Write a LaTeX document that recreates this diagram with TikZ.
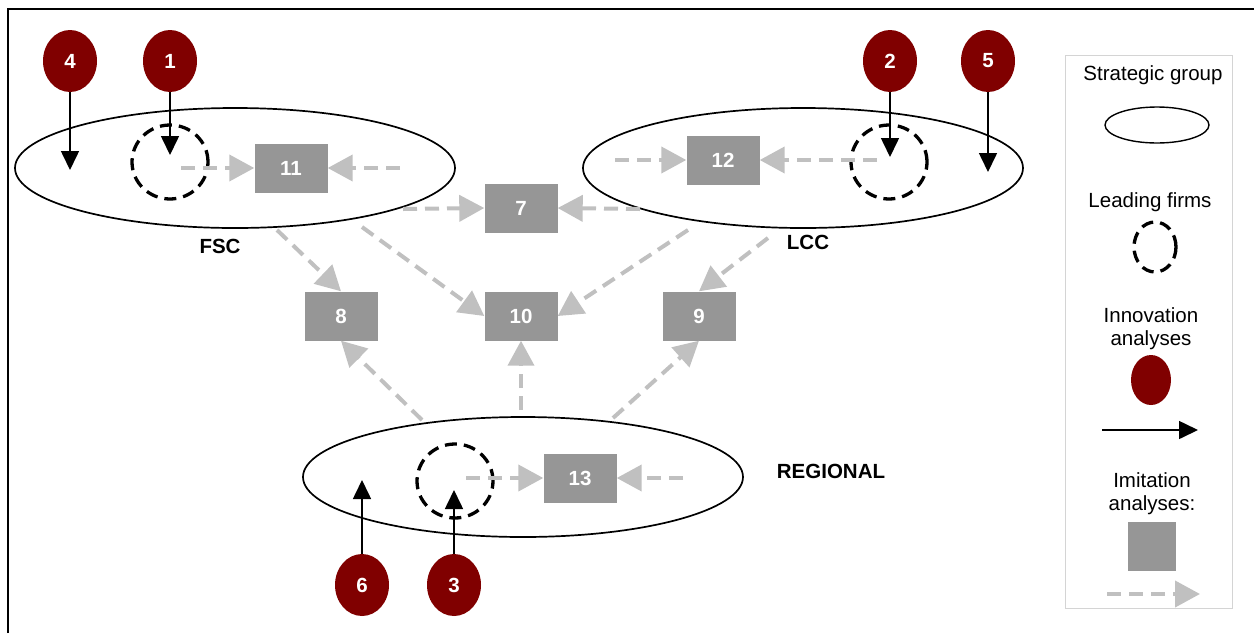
\documentclass[tikz,border=0pt]{standalone}
\usepackage{fontspec}
\setmainfont{Liberation Sans}
\usetikzlibrary{arrows.meta,shapes.geometric}

\definecolor{innovred}{HTML}{800000}
\definecolor{boxgray}{HTML}{969696}
\definecolor{arrowgray}{HTML}{C0C0C0}
\definecolor{framegray}{HTML}{D4D4D4}

\tikzset{
  group/.style={ellipse, draw, line width=1.7pt, inner sep=0pt, minimum width=440pt, minimum height=120pt},
  leader/.style={ellipse, draw, line width=3.3pt, dash pattern=on 12pt off 7pt, inner sep=0pt, minimum width=76pt, minimum height=74pt},
  innov/.style={ellipse, fill=innovred, text=white, inner sep=0pt, minimum width=54pt, minimum height=62pt, font=\fontsize{20.5}{23}\selectfont\bfseries},
  imit/.style={rectangle, fill=boxgray, text=white, inner sep=0pt, minimum width=73pt, minimum height=49pt, font=\fontsize{20.5}{23}\selectfont\bfseries},
  grouplabel/.style={font=\fontsize{20.5}{24}\selectfont\bfseries},
  legendtext/.style={align=center, font=\fontsize{20.5}{23}\selectfont},
  innovarrow/.style={-{Triangle[length=19pt,width=18pt]}, line width=1.6pt},
  imitarrow/.style={-{Triangle[length=25pt,width=26pt]}, draw=arrowgray, line width=4pt, dash pattern=on 14pt off 8pt},
}

\begin{document}
\begin{tikzpicture}[x=1pt,y=-1pt]
  \useasboundingbox (0,0) rectangle (1254,633);
  \draw[line width=2pt] (8,633) -- (8,9) -- (1254,9);
  %
  % strategic groups
  \node[group] (fsc) at (235,168) {};
  \node[group] (lcc) at (803,168) {};
  \node[group] (reg) at (523,477) {};
  \node[grouplabel] (fsclabel) at (220,246) {FSC};
  \node[grouplabel] (lcclabel) at (808,242) {LCC};
  \node[grouplabel] (reglabel) at (831,471) {REGIONAL};
  %
  % leading firms
  \node[leader] (lead1) at (170,162) {};
  \node[leader] (lead2) at (889,162) {};
  \node[leader] (lead3) at (455,481) {};
  %
  % innovation analyses
  \node[innov] (i1) at (170,61) {1};
  \node[innov] (i2) at (890,61) {2};
  \node[innov] (i3) at (454,585) {3};
  \node[innov] (i4) at (70,61) {4};
  \node[innov] (i5) at (988,61) {5};
  \node[innov] (i6) at (362,585) {6};
  \coordinate (t1) at (170,155);
  \coordinate (t2) at (890,157);
  \coordinate (t3) at (454,490);
  \coordinate (t4) at (70,170);
  \coordinate (t5) at (988,172);
  \coordinate (t6) at (362,480);
  \draw[innovarrow] (i1) -- (t1);
  \draw[innovarrow] (i2) -- (t2);
  \draw[innovarrow] (i3) -- (t3);
  \draw[innovarrow] (i4) -- (t4);
  \draw[innovarrow] (i5) -- (t5);
  \draw[innovarrow] (i6) -- (t6);
  %
  % imitation analyses
  \node[imit] (b7) at (521,208) {7};
  \node[imit] (b8) at (341,316) {8};
  \node[imit] (b9) at (699,316) {9};
  \node[imit] (b10) at (521,316) {10};
  \node[imit] (b11) at (291,168) {11};
  \node[imit] (b12) at (723,160) {12};
  \node[imit] (b13) at (580,478) {13};
  %
  \coordinate (s11a) at (181,168);
  \coordinate (s11b) at (400,168);
  \coordinate (s12a) at (615,160);
  \coordinate (s12b) at (877,160);
  \coordinate (s13a) at (466,478);
  \coordinate (s13b) at (683,478);
  \coordinate (s7a) at (403,209);
  \coordinate (s7b) at (640,209);
  \coordinate (s8a) at (277,230);
  \coordinate (s8b) at (422,420);
  \coordinate (s9a) at (768,238);
  \coordinate (s9b) at (613,418);
  \coordinate (s10a) at (362,227);
  \coordinate (s10b) at (688,230);
  \coordinate (s10c) at (521,410);
  %
  \draw[imitarrow] (s11a) -- (b11.west);
  \draw[imitarrow] (s11b) -- (b11.east);
  \draw[imitarrow] (s12a) -- (b12.west);
  \draw[imitarrow] (s12b) -- (b12.east);
  \draw[imitarrow] (s13a) -- (b13.west);
  \draw[imitarrow] (s13b) -- (b13.east);
  \draw[imitarrow] (s7a) -- (b7.west);
  \draw[imitarrow] (s7b) -- (b7.east);
  \draw[imitarrow] (s8a) -- (b8.north);
  \draw[imitarrow] (s8b) -- (b8.south);
  \draw[imitarrow] (s9a) -- (b9.north);
  \draw[imitarrow] (s9b) -- (b9.south);
  \draw[imitarrow] (s10a) -- (b10.west);
  \draw[imitarrow] (s10b) -- (b10.east);
  \draw[imitarrow] (s10c) -- (b10.south);
  %
  % legend
  \draw[framegray, line width=1pt] (1065,55) rectangle (1232,608);
  \node[legendtext] (lgroup) at (1153,75) {Strategic group};
  \node[group, line width=1.4pt, minimum width=104pt, minimum height=36pt] (lgroupshape) at (1157,125) {};
  \node[legendtext] (llead) at (1150,202) {Leading firms};
  \node[leader, minimum width=42pt, minimum height=50pt] (lleadshape) at (1155,247) {};
  \node[legendtext] (linnov) at (1151,329) {Innovation\\analyses};
  \node[innov, minimum width=40pt, minimum height=50pt] (linnovshape) at (1151,380) {};
  \coordinate (la1) at (1102,430);
  \coordinate (la2) at (1198,430);
  \draw[innovarrow] (la1) -- (la2);
  \node[legendtext] (limit) at (1152,494) {Imitation\\analyses:};
  \node[imit, minimum width=48pt, minimum height=49pt] (limitshape) at (1152,546) {};
  \coordinate (lb1) at (1107,594);
  \coordinate (lb2) at (1200,594);
  \draw[imitarrow] (lb1) -- (lb2);
\end{tikzpicture}
\end{document}
